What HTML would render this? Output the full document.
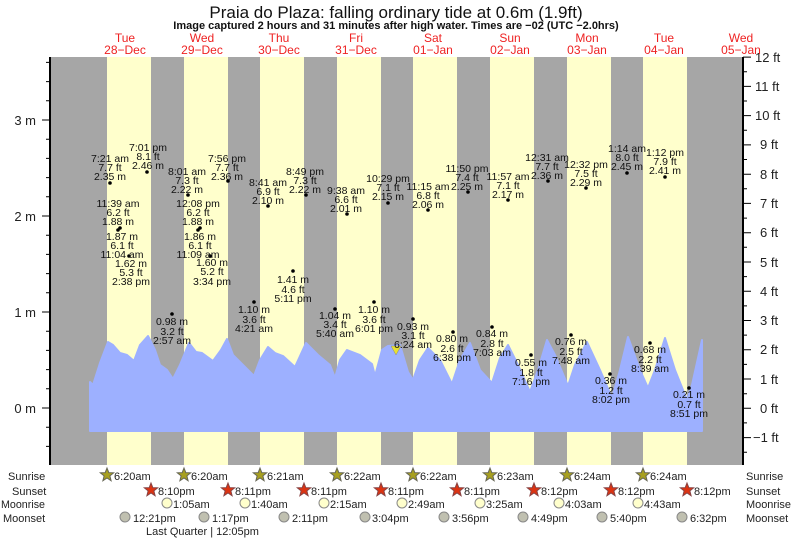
<!DOCTYPE html>
<html><head><meta charset="utf-8"><style>
body{margin:0;background:#fff;}
svg{display:block;font-family:"Liberation Sans",sans-serif;}
.l text{font-size:10.5px;fill:#111;text-anchor:middle;}
.b text{font-size:11px;fill:#222;}
</style></head><body>
<svg width="793" height="539" viewBox="0 0 793 539" xmlns="http://www.w3.org/2000/svg">
<rect x="50" y="57" width="693" height="408" fill="#a6a6a6"/>
<g fill="#ffffcc">
<rect x="107" y="57" width="44" height="408"/><rect x="184" y="57" width="44" height="408"/>
<rect x="260" y="57" width="44" height="408"/><rect x="337" y="57" width="44" height="408"/>
<rect x="413" y="57" width="44" height="408"/><rect x="490" y="57" width="44" height="408"/>
<rect x="567" y="57" width="44" height="408"/><rect x="643" y="57" width="44" height="408"/>
</g>
<path fill="#9db0ff" stroke="#9db0ff" stroke-width="2" stroke-linejoin="round" d="M90,431 L90,382 L93,385 L100,363 L108,342 L113,345 L120,353 L127,355 L134,361 L140,345 L148,336 L155,350 L160,365 L167,370 L173,379 L180,365 L189,343 L196,352 L202,353 L213,361 L221,350 L227,339 L233,355 L240,362 L254,376 L260,360 L268,347 L275,353 L283,356 L295,367 L306,343 L318,355 L330,365 L335,378 L340,360 L347,350 L360,355 L372,364 L375,376 L382,350 L388,346 L400,345 L408,372 L413,380 L420,360 L428,348 L440,360 L452,384 L460,360 L470,343 L480,370 L492,383 L500,358 L508,345 L518,365 L530,392 L538,370 L547,340 L555,355 L568,386 L575,365 L587,342 L600,370 L612,398 L620,370 L628,337 L640,370 L648,388 L655,370 L665,338 L675,370 L687,400 L692,385 L702,340 L702,431 Z"/>
<polygon points="391,346 401,346 396,355" fill="#e8e030" stroke="#888" stroke-width="0.5"/>
<g stroke="#000" fill="none">
<line x1="50" y1="57" x2="50" y2="465" stroke-width="2"/>
<line x1="743" y1="57" x2="743" y2="465" stroke-width="2"/>
<path d="M42,120H50M42,216H50M42,312H50M42,408H50"/>
<path d="M46,62.4H50M46,81.6H50M46,100.8H50M46,139.2H50M46,158.4H50M46,177.6H50M46,196.8H50M46,235.2H50M46,254.4H50M46,273.6H50M46,292.8H50M46,331.2H50M46,350.4H50M46,369.6H50M46,388.8H50M46,427.2H50M46,446.4H50"/>
<path d="M743,57.1h8M743,86.4h8M743,115.6h8M743,144.9h8M743,174.2h8M743,203.4h8M743,232.7h8M743,262h8M743,291.2h8M743,320.5h8M743,349.8h8M743,379h8M743,408.3h8M743,437.6h8"/>
<path d="M743,71.7h4M743,101h4M743,130.3h4M743,159.5h4M743,188.8h4M743,218.1h4M743,247.3h4M743,276.6h4M743,305.9h4M743,335.1h4M743,364.4h4M743,393.7h4M743,422.9h4M743,452.2h4"/>
</g>
<g font-size="13" fill="#222" text-anchor="end">
<text x="36" y="125">3 m</text><text x="36" y="221">2 m</text><text x="36" y="317">1 m</text><text x="36" y="413">0 m</text>
</g>
<g font-size="13" fill="#222">
<text x="755" y="62">12 ft</text><text x="755" y="91">11 ft</text><text x="755" y="120">10 ft</text><text x="760" y="149">9 ft</text><text x="760" y="179">8 ft</text><text x="760" y="208">7 ft</text><text x="760" y="237">6 ft</text><text x="760" y="267">5 ft</text><text x="760" y="296">4 ft</text><text x="760" y="325">3 ft</text><text x="760" y="354">2 ft</text><text x="760" y="384">1 ft</text><text x="760" y="413">0 ft</text><text x="753" y="442">−1 ft</text>
</g>
<text x="396" y="18" font-size="17" text-anchor="middle" fill="#111">Praia do Plaza: falling  ordinary tide at 0.6m (1.9ft)</text>
<text x="396" y="29" font-size="11" font-weight="bold" text-anchor="middle" fill="#111">Image captured 2 hours and 31 minutes after high water. Times are −02 (UTC −2.0hrs)</text>
<g font-size="12" fill="#ee2222" text-anchor="middle">
<text x="125" y="42">Tue</text><text x="125" y="54">28−Dec</text>
<text x="202" y="42">Wed</text><text x="202" y="54">29−Dec</text>
<text x="279" y="42">Thu</text><text x="279" y="54">30−Dec</text>
<text x="356" y="42">Fri</text><text x="356" y="54">31−Dec</text>
<text x="433" y="42">Sat</text><text x="433" y="54">01−Jan</text>
<text x="510" y="42">Sun</text><text x="510" y="54">02−Jan</text>
<text x="587" y="42">Mon</text><text x="587" y="54">03−Jan</text>
<text x="664" y="42">Tue</text><text x="664" y="54">04−Jan</text>
<text x="741" y="42">Wed</text><text x="741" y="54">05−Jan</text>
</g>
<g fill="#000">
<circle cx="110" cy="183" r="1.8"/><circle cx="147" cy="172" r="1.8"/><circle cx="120" cy="228" r="1.8"/><circle cx="118" cy="230" r="1.8"/><circle cx="129" cy="256" r="1.8"/>
<circle cx="188" cy="195" r="1.8"/><circle cx="228" cy="181" r="1.8"/><circle cx="200" cy="228" r="1.8"/><circle cx="198" cy="230" r="1.8"/><circle cx="210" cy="256" r="1.8"/>
<circle cx="172" cy="314" r="1.8"/><circle cx="268" cy="206" r="1.8"/><circle cx="306" cy="195" r="1.8"/><circle cx="293" cy="271" r="1.8"/><circle cx="254" cy="302" r="1.8"/>
<circle cx="347" cy="214" r="1.8"/><circle cx="388" cy="203" r="1.8"/><circle cx="335" cy="309" r="1.8"/><circle cx="374" cy="302" r="1.8"/>
<circle cx="428" cy="210" r="1.8"/><circle cx="413" cy="319" r="1.8"/><circle cx="453" cy="332" r="1.8"/>
<circle cx="468" cy="192" r="1.8"/><circle cx="508" cy="200" r="1.8"/><circle cx="492" cy="327" r="1.8"/><circle cx="531" cy="355" r="1.8"/>
<circle cx="548" cy="181" r="1.8"/><circle cx="586" cy="188" r="1.8"/><circle cx="571" cy="335" r="1.8"/><circle cx="610" cy="374" r="1.8"/>
<circle cx="627" cy="173" r="1.8"/><circle cx="665" cy="177" r="1.8"/><circle cx="650" cy="343" r="1.8"/><circle cx="689" cy="388" r="1.8"/>
</g>
<g class="l">
<text x="110" y="162">7:21 am</text><text x="110" y="171">7.7 ft</text><text x="110" y="180">2.35 m</text>
<text x="148" y="151">7:01 pm</text><text x="148" y="160">8.1 ft</text><text x="148" y="169">2.46 m</text>
<text x="118" y="207">11:39 am</text><text x="118" y="216">6.2 ft</text><text x="118" y="225">1.88 m</text>
<text x="122" y="240">1.87 m</text><text x="122" y="249">6.1 ft</text><text x="122" y="258">11:04 am</text>
<text x="131" y="267">1.62 m</text><text x="131" y="276">5.3 ft</text><text x="131" y="285">2:38 pm</text>
<text x="187" y="175">8:01 am</text><text x="187" y="184">7.3 ft</text><text x="187" y="193">2.22 m</text>
<text x="227" y="162">7:56 pm</text><text x="227" y="171">7.7 ft</text><text x="227" y="180">2.36 m</text>
<text x="198" y="207">12:08 pm</text><text x="198" y="216">6.2 ft</text><text x="198" y="225">1.88 m</text>
<text x="200" y="240">1.86 m</text><text x="200" y="249">6.1 ft</text><text x="198" y="258">11:09 am</text>
<text x="212" y="266">1.60 m</text><text x="212" y="275">5.2 ft</text><text x="212" y="285">3:34 pm</text>
<text x="172" y="325">0.98 m</text><text x="172" y="335">3.2 ft</text><text x="172" y="344">2:57 am</text>
<text x="268" y="186">8:41 am</text><text x="268" y="195">6.9 ft</text><text x="268" y="204">2.10 m</text>
<text x="305" y="175">8:49 pm</text><text x="305" y="184">7.3 ft</text><text x="305" y="193">2.22 m</text>
<text x="293" y="283">1.41 m</text><text x="293" y="293">4.6 ft</text><text x="293" y="302">5:11 pm</text>
<text x="254" y="313">1.10 m</text><text x="254" y="323">3.6 ft</text><text x="254" y="332">4:21 am</text>
<text x="346" y="194">9:38 am</text><text x="346" y="203">6.6 ft</text><text x="346" y="212">2.01 m</text>
<text x="388" y="182">10:29 pm</text><text x="388" y="191">7.1 ft</text><text x="388" y="200">2.15 m</text>
<text x="335" y="319">1.04 m</text><text x="335" y="328">3.4 ft</text><text x="335" y="337">5:40 am</text>
<text x="374" y="313">1.10 m</text><text x="374" y="323">3.6 ft</text><text x="374" y="332">6:01 pm</text>
<text x="428" y="190">11:15 am</text><text x="428" y="199">6.8 ft</text><text x="428" y="208">2.06 m</text>
<text x="413" y="330">0.93 m</text><text x="413" y="339">3.1 ft</text><text x="413" y="348">6:24 am</text>
<text x="452" y="342">0.80 m</text><text x="452" y="352">2.6 ft</text><text x="452" y="361">6:38 pm</text>
<text x="467" y="172">11:50 pm</text><text x="467" y="181">7.4 ft</text><text x="467" y="190">2.25 m</text>
<text x="508" y="180">11:57 am</text><text x="508" y="189">7.1 ft</text><text x="508" y="198">2.17 m</text>
<text x="492" y="337">0.84 m</text><text x="492" y="347">2.8 ft</text><text x="492" y="356">7:03 am</text>
<text x="531" y="366">0.55 m</text><text x="531" y="376">1.8 ft</text><text x="531" y="385">7:16 pm</text>
<text x="547" y="161">12:31 am</text><text x="547" y="170">7.7 ft</text><text x="547" y="179">2.36 m</text>
<text x="586" y="168">12:32 pm</text><text x="586" y="177">7.5 ft</text><text x="586" y="186">2.29 m</text>
<text x="571" y="345">0.76 m</text><text x="571" y="355">2.5 ft</text><text x="571" y="364">7:48 am</text>
<text x="611" y="384">0.36 m</text><text x="611" y="394">1.2 ft</text><text x="611" y="403">8:02 pm</text>
<text x="627" y="152">1:14 am</text><text x="627" y="161">8.0 ft</text><text x="627" y="170">2.45 m</text>
<text x="665" y="156">1:12 pm</text><text x="665" y="165">7.9 ft</text><text x="665" y="174">2.41 m</text>
<text x="650" y="353">0.68 m</text><text x="650" y="363">2.2 ft</text><text x="650" y="372">8:39 am</text>
<text x="689" y="398">0.21 m</text><text x="689" y="408">0.7 ft</text><text x="689" y="417">8:51 pm</text>
</g>
<defs>
<polygon id="st" points="0,-7 1.8,-2.4 6.7,-2.2 2.9,0.9 4.1,5.7 0,3 -4.1,5.7 -2.9,0.9 -6.7,-2.2 -1.8,-2.4"/>
</defs>
<g fill="#a8a020" stroke="#665"><use href="#st" x="107" y="475"/><use href="#st" x="184" y="475"/><use href="#st" x="260" y="475"/><use href="#st" x="337" y="475"/><use href="#st" x="413" y="475"/><use href="#st" x="490" y="475"/><use href="#st" x="567" y="475"/><use href="#st" x="643" y="475"/></g>
<g fill="#dd3311" stroke="#844"><use href="#st" x="151" y="490"/><use href="#st" x="228" y="490"/><use href="#st" x="304" y="490"/><use href="#st" x="381" y="490"/><use href="#st" x="457" y="490"/><use href="#st" x="534" y="490"/><use href="#st" x="611" y="490"/><use href="#st" x="687" y="490"/></g>
<g fill="#ffffcc" stroke="#888"><circle cx="167" cy="503" r="5"/><circle cx="245" cy="503" r="5"/><circle cx="324" cy="503" r="5"/><circle cx="402" cy="503" r="5"/><circle cx="480" cy="503" r="5"/><circle cx="559" cy="503" r="5"/><circle cx="638" cy="503" r="5"/></g>
<g fill="#c0c0b0" stroke="#888"><circle cx="125" cy="517" r="5"/><circle cx="204" cy="517" r="5"/><circle cx="284" cy="517" r="5"/><circle cx="365" cy="517" r="5"/><circle cx="444" cy="517" r="5"/><circle cx="523" cy="517" r="5"/><circle cx="602" cy="517" r="5"/><circle cx="682" cy="517" r="5"/></g>
<g class="b">
<text x="114" y="480">6:20am</text><text x="191" y="480">6:20am</text><text x="267" y="480">6:21am</text><text x="344" y="480">6:22am</text><text x="420" y="480">6:22am</text><text x="497" y="480">6:23am</text><text x="574" y="480">6:24am</text><text x="650" y="480">6:24am</text>
<text x="158" y="495">8:10pm</text><text x="235" y="495">8:11pm</text><text x="311" y="495">8:11pm</text><text x="388" y="495">8:11pm</text><text x="464" y="495">8:11pm</text><text x="541" y="495">8:12pm</text><text x="618" y="495">8:12pm</text><text x="694" y="495">8:12pm</text>
<text x="173" y="508">1:05am</text><text x="251" y="508">1:40am</text><text x="330" y="508">2:15am</text><text x="408" y="508">2:49am</text><text x="486" y="508">3:25am</text><text x="565" y="508">4:03am</text><text x="644" y="508">4:43am</text>
<text x="133" y="522">12:21pm</text><text x="212" y="522">1:17pm</text><text x="292" y="522">2:11pm</text><text x="372" y="522">3:04pm</text><text x="452" y="522">3:56pm</text><text x="531" y="522">4:49pm</text><text x="610" y="522">5:40pm</text><text x="690" y="522">6:32pm</text>
<text x="146" y="535">Last Quarter | 12:05pm</text>
</g>
<g font-size="11" fill="#222">
<text x="8" y="480">Sunrise</text><text x="12" y="495">Sunset</text><text x="1" y="508" textLength="44" lengthAdjust="spacingAndGlyphs">Moonrise</text><text x="3" y="522">Moonset</text>
</g>
<g font-size="11" fill="#222">
<text x="746" y="480">Sunrise</text><text x="746" y="495">Sunset</text><text x="746" y="508" textLength="45" lengthAdjust="spacingAndGlyphs">Moonrise</text><text x="746" y="522">Moonset</text>
</g>
</svg>
</body></html>
